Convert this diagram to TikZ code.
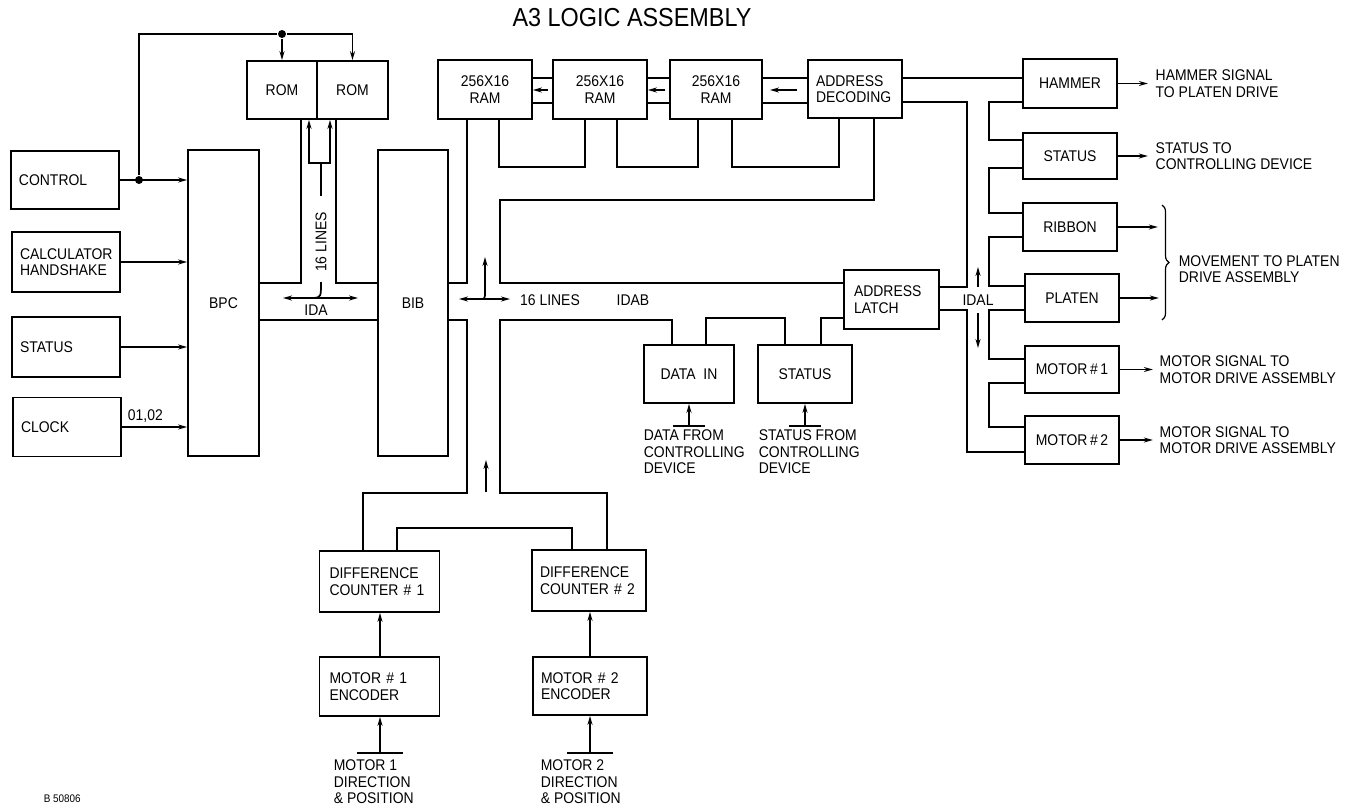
\documentclass[tikz,border=0pt]{standalone}
\usepackage{fontspec}
\setmainfont{Liberation Sans}[FakeStretch=0.9]
\usetikzlibrary{arrows.meta,decorations.pathreplacing}

\begin{document}
\begin{tikzpicture}[x=1pt, y=-1pt, line width=1.7pt, >={Stealth[length=9pt,width=5pt]},
  font=\fontsize{15.5}{16.5}\selectfont,
  blk/.style={draw, inner sep=0pt, align=center},
  lblk/.style={draw, inner xsep=8pt, inner ysep=0pt, align=left, text width=#1},
  txt/.style={inner sep=0pt, align=left},
  dot/.style={circle, fill, inner sep=0pt, minimum size=8pt}]
  \useasboundingbox (0,0) rectangle (1369,807);
  \node[font=\fontsize{26}{28}\selectfont] (title) at (632,18) {A3 LOGIC ASSEMBLY};

  \node[lblk=92pt, minimum height=58pt] (ctrl) at (65,180) {CONTROL};
  \node[lblk=92pt, minimum height=60pt] (calc) at (66,262) {CALCULATOR\\HANDSHAKE};
  \node[lblk=92pt, minimum height=60pt] (status1) at (66,347) {STATUS};
  \node[lblk=92pt, minimum height=59pt] (clk) at (67,427) {CLOCK};
  \node[blk, minimum width=71pt, minimum height=306pt] (bpc) at (223.5,303) {BPC};
  \node[blk, minimum width=70pt, minimum height=58pt] (rom1) at (282,90) {ROM};
  \node[blk, minimum width=71pt, minimum height=58pt] (rom2) at (352.5,90) {ROM};
  \node[blk, minimum width=70pt, minimum height=306pt] (bib) at (413,303) {BIB};

  \node[blk, minimum width=94pt, minimum height=59pt] (ram1) at (485,89.5) {256X16\\RAM};
  \node[blk, minimum width=94pt, minimum height=59pt] (ram2) at (600,89.5) {256X16\\RAM};
  \node[blk, minimum width=92pt, minimum height=59pt] (ram3) at (716,89.5) {256X16\\RAM};
  \node[lblk=78pt, minimum height=58pt] (adec) at (855,89) {ADDRESS\\DECODING};
  \node[lblk=75pt, inner xsep=10pt, minimum height=59pt] (alat) at (891.5,299.5) {ADDRESS\\LATCH};
  \node[blk, minimum width=90pt, minimum height=58pt] (din) at (689,374) {DATA\ \ IN};
  \node[blk, minimum width=94pt, minimum height=58pt] (status2) at (805,374) {STATUS};

  \node[lblk=100pt, inner xsep=10pt, minimum height=61pt] (diff1) at (379.5,581.5) {DIFFERENCE\\COUNTER \# 1};
  \node[lblk=98pt, minimum height=61pt] (diff2) at (589,580.5) {DIFFERENCE\\COUNTER \# 2};
  \node[lblk=100pt, inner xsep=10pt, minimum height=59pt] (enc1) at (379.5,686.5) {MOTOR \# 1\\ENCODER};
  \node[lblk=98pt, minimum height=58pt] (enc2) at (590,686) {MOTOR \# 2\\ENCODER};

  \node[blk, minimum width=94pt, minimum height=49pt] (ham) at (1070,83.5) {HAMMER};
  \node[blk, minimum width=94pt, minimum height=46pt] (status3) at (1070,156) {STATUS};
  \node[blk, minimum width=94pt, minimum height=48pt] (rib) at (1070,227) {RIBBON};
  \node[blk, minimum width=94pt, minimum height=48pt] (plat) at (1072,298) {PLATEN};
  \node[blk, minimum width=94pt, minimum height=47pt] (mot1) at (1072,369.5) {MOTOR\,\#\,1};
  \node[blk, minimum width=94pt, minimum height=48pt] (mot2) at (1072,440) {MOTOR\,\#\,2};

  \node[dot] (j1) at (139,180) {};
  \node[dot] (j2) at (282,34) {};
  \draw[->] (ctrl.east) -- (ctrl.east -| bpc.west);
  \draw (j1) |- (j2);
  \draw[->] (j2) -- (rom1.north);
  \draw[->] (j2) -| (rom2.north);
  \draw[->] (calc.east) -- (calc.east -| bpc.west);
  \draw[->] (status1.east) -- (status1.east -| bpc.west);
  \draw[->] (clk.east) -- (clk.east -| bpc.west) node[pos=0.36, above] (phase) {01,02};

  \draw (bpc.east |- 0,283) -| (rom1.south -| 301,0);
  \draw (bib.west |- 0,283) -| (rom2.south -| 336,0);
  \draw (bpc.east |- 0,320) -- (bib.west |- 0,320);
  \draw[<->] (rom1.south -| 309,0) |- (330,163) -- (rom2.south -| 330,0);
  \draw (321,163) -- (321,196);
  \node[rotate=90] (lines1) at (321,242) {16 LINES};
  \draw (321,282) .. controls (321,297) .. (314,298);
  \draw[<->] (283,298) -- (358,298);
  \node (ida) at (316,310) {IDA};

  \draw (bib.east |- 0,283) -| (ram1.south -| 467,0);
  \draw (bib.east |- 0,320) -| (467,493) -| (diff1.north -| 363,0);
  \draw (alat.west |- 0,283) -| (500,200) -| (adec.south -| 874,0);
  \draw (din.north -| 672,0) |- (500,320) |- (607,493) -- (diff2.north -| 607,0);
  \draw (din.north -| 706,0) |- (785,318) -- (status2.north -| 785,0);
  \draw (status2.north -| 821,0) |- (alat.west |- 0,318);
  \draw (diff1.north -| 397,0) |- (572,528) -- (diff2.north -| 572,0);
  \draw[<->] (459,299) -- (510,299);
  \draw[->] (480,299) .. controls (485,299) .. (485,291) -- (485,257);
  \draw[->] (486,492) -- (486,460);
  \node (lines2) at (550,300) {16 LINES};
  \node (idab) at (633,300) {IDAB};

  \draw (ram1.east |- 0,78) -- (ram2.west |- 0,78);
  \draw (ram1.east |- 0,103) -- (ram2.west |- 0,103);
  \draw (ram2.east |- 0,78) -- (ram3.west |- 0,78);
  \draw (ram2.east |- 0,103) -- (ram3.west |- 0,103);
  \draw (ram3.east |- 0,78) -- (adec.west |- 0,78);
  \draw (ram3.east |- 0,103) -- (adec.west |- 0,103);
  \draw[->] (548,90) -- (ram1.east |- 0,90);
  \draw[->] (665,90) -- (ram2.east |- 0,90);
  \draw[->] (797,90) -- (770,90);
  \draw (ram1.south -| 499,0) |- (585,167) -- (ram2.south -| 585,0);
  \draw (ram2.south -| 617,0) |- (698,167) -- (ram3.south -| 698,0);
  \draw (ram3.south -| 732,0) |- (839,167) -- (adec.south -| 839,0);

  \draw (adec.east |- 0,78) -- (ham.west |- 0,78);
  \draw (adec.east |- 0,102) -| (967,287) -- (alat.east |- 0,287);
  \draw (alat.east |- 0,310) -| (967,452) -- (mot2.west |- 0,452);
  \draw (ham.west |- 0,102) -| (989,140) -- (status3.west |- 0,140);
  \draw (status3.west |- 0,168) -| (989,213) -- (rib.west |- 0,213);
  \draw (rib.west |- 0,237) -| (989,286) -- (plat.west |- 0,286);
  \draw (plat.west |- 0,310) -| (989,359) -- (mot1.west |- 0,359);
  \draw (mot1.west |- 0,383) -| (989,427) -- (mot2.west |- 0,427);
  \draw[->] (978,287) -- (978,267);
  \draw[->] (978,313) -- (978,348);
  \node (idal) at (978,300) {IDAL};

  \draw[->] (ham.east) -- ++(30,0) node[txt, right=7pt] (lham) {HAMMER SIGNAL\\TO PLATEN DRIVE};
  \draw[->] (status3.east) -- ++(30,0) node[txt, right=7pt] (lstat) {STATUS TO\\CONTROLLING DEVICE};
  \draw[->] (rib.east) -- ++(40,0);
  \draw[->] (plat.east) -- ++(39,0);
  \draw[->] (mot1.east) -- ++(33,0) node[txt, right=6pt] (lmot1) {MOTOR SIGNAL TO\\MOTOR DRIVE ASSEMBLY};
  \draw[->] (mot2.east) -- ++(33,0) node[txt, right=6pt] (lmot2) {MOTOR SIGNAL TO\\MOTOR DRIVE ASSEMBLY};
  \draw[decorate, decoration={brace, amplitude=7pt}, line width=1.2pt] (1162,205) -- (1162,320);
  \node[txt, anchor=west] (lmove) at (1178,269) {MOVEMENT TO PLATEN\\DRIVE ASSEMBLY};

  \coordinate (bdin) at (689,426);
  \coordinate (bstat) at (805,426);
  \coordinate (benc1) at (380,753);
  \coordinate (benc2) at (590,753);
  \draw ([xshift=-16pt]bdin) -- ([xshift=16pt]bdin);
  \draw ([xshift=-16pt]bstat) -- ([xshift=16pt]bstat);
  \draw ([xshift=-23pt]benc1) -- ([xshift=23pt]benc1);
  \draw ([xshift=-23pt]benc2) -- ([xshift=23pt]benc2);
  \draw[->] (bdin) -- (din.south);
  \draw[->] (bstat) -- (status2.south);
  \draw[->] (benc1) -- (enc1.south -| benc1);
  \draw[->] (benc2) -- (enc2.south);
  \draw[->] (enc1.north -| benc1) -- (diff1.south -| benc1);
  \draw[->] (enc2.north) -- (diff2.south -| enc2.north);
  \node[txt, anchor=north west] (ldin) at (643,429) {DATA FROM\\CONTROLLING\\DEVICE};
  \node[txt, anchor=north west] (lstin) at (758,429) {STATUS FROM\\CONTROLLING\\DEVICE};
  \node[txt, anchor=north west] (lenc1) at (333,759) {MOTOR 1\\DIRECTION\\\& POSITION};
  \node[txt, anchor=north west] (lenc2) at (540,759) {MOTOR 2\\DIRECTION\\\& POSITION};

  \node[font=\fontsize{11}{12}\selectfont, anchor=west, inner sep=0pt] (fig) at (43,799) {B 50806};
\end{tikzpicture}
\end{document}
